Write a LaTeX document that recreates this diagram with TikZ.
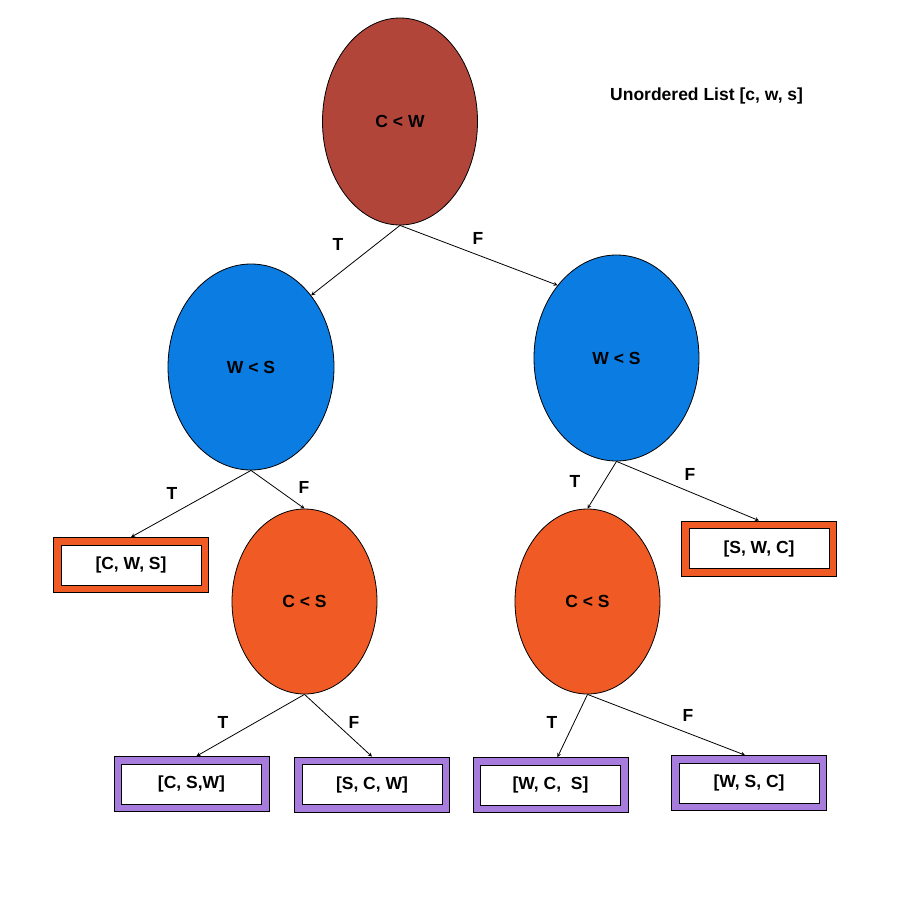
\documentclass[tikz,border=0pt]{standalone}
\usepackage{fontspec}
\setmainfont{Liberation Sans}
\usepackage{xcolor}
\usepackage{tikz}
\usetikzlibrary{shapes.geometric, arrows, positioning}
\definecolor{rootred}{RGB}{178,69,58}
\definecolor{testblue}{RGB}{11,124,226}
\definecolor{testorange}{RGB}{240,90,36}
\definecolor{leafpurple}{RGB}{167,124,220}
\tikzstyle{test} = [ellipse, draw=black, line width=0.8pt, inner sep=0pt, text centered, font=\bfseries\fontsize{17.5}{20}\selectfont]
\tikzstyle{result} = [rectangle, minimum width=155pt, minimum height=55pt, inner sep=0pt, text centered, draw=black, line width=0.8pt, font=\bfseries\fontsize{17.5}{20}\selectfont,
    path picture={\draw[fill=white, line width=0.8pt] ([shift={(7.5pt,7.5pt)}]path picture bounding box.south west) rectangle ([shift={(-7.5pt,-7.5pt)}]path picture bounding box.north east);}]
\tikzstyle{branch} = [inner sep=0pt, font=\bfseries\fontsize{17.5}{20}\selectfont]
\tikzstyle{arrow} = [line width=0.8pt,->,>=stealth]

\begin{document}
\begin{tikzpicture}[x=1pt, y=-1pt]
            \useasboundingbox (0,0) rectangle (900,900);
            \node[branch, anchor=west] (title) at (610,96) {Unordered List [c, w, s]};
            \node[test, fill=rootred, minimum width=155pt, minimum height=207pt] (cw) at (400,121.5) {C < W};
            \node[test, fill=testblue, minimum width=166pt, minimum height=206pt] (wsl) at (251,367) {W < S};
            \node[test, fill=testblue, minimum width=165pt, minimum height=206pt] (wsr) at (616.5,358) {W < S};
            \node[test, fill=testorange, minimum width=145pt, minimum height=185pt] (csl) at (304.5,601.5) {C < S};
            \node[test, fill=testorange, minimum width=145pt, minimum height=185pt] (csr) at (587.5,601.5) {C < S};
            \node[result, fill=testorange] (cws) at (131,565) {[C, W, S]};
            \node[result, fill=testorange] (swc) at (759,548.5) {[S, W, C]};
            \node[result, fill=leafpurple] (csw) at (191.5,784) {[C, S,W]};
            \node[result, fill=leafpurple] (scw) at (372,784.5) {[S, C, W]};
            \node[result, fill=leafpurple] (wcs) at (550.5,785) {[W, C,~~S]};
            \node[result, fill=leafpurple] (wsc) at (749,783) {[W, S, C]};
            % branch labels
            \node[branch] (t1) at (338,244) {T};
            \node[branch] (f1) at (478,238) {F};
            \node[branch] (t2) at (172,493) {T};
            \node[branch] (f2) at (304,487) {F};
            \node[branch] (t3) at (575,481) {T};
            \node[branch] (f3) at (690,474) {F};
            \node[branch] (t4) at (223,722) {T};
            \node[branch] (f4) at (354,722) {F};
            \node[branch] (t5) at (552,722) {T};
            \node[branch] (f5) at (688,715) {F};

            \draw[arrow] (cw.south) -- (wsl.50);
            \draw[arrow] (cw.south) -- (wsr.129);
            \draw[arrow] (wsl.south) -- (cws.north);
            \draw[arrow] (wsl.south) -- (csl.north);
            \draw[arrow] (wsr.south) -- (csr.north);
            \draw[arrow] (wsr.south) -- (swc.north);
            \draw[arrow] (csl.south) -- ([xshift=5pt]csw.north);
            \draw[arrow] (csl.south) -- (scw.north);
            \draw[arrow] (csr.south) -- ([xshift=7pt]wcs.north);
            \draw[arrow] (csr.south) -- ([xshift=-4pt]wsc.north);
        \end{tikzpicture}
\end{document}
